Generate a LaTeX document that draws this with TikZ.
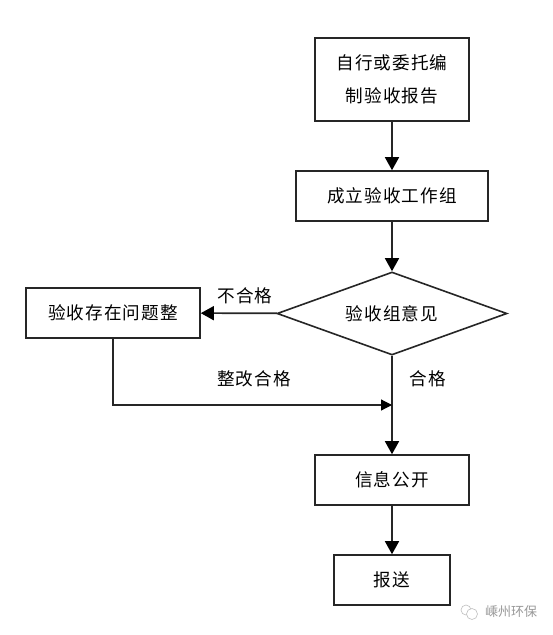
\documentclass[tikz,border=0pt]{standalone}
\usepackage{fontspec}
\usetikzlibrary{arrows.meta,shapes.geometric}
\setmainfont{Noto Sans CJK SC}[LetterSpace=6]
\newfontfamily\wmfont{Noto Sans CJK SC}
\tikzset{
  x=1pt,y=-1pt,
  flowbox/.style={draw=black!85,line width=1.6pt,fill=white,inner sep=0pt,align=center,font=\fontsize{17.6}{33}\selectfont},
  tag/.style={inner sep=0pt,font=\fontsize{17.6}{20}\selectfont},
  flow/.style={draw=black!85,line width=1.6pt,-{Triangle[length=13pt,width=14pt,color=black]}},
  thinflow/.style={draw=black!85,line width=1.2pt,-{Triangle[length=11pt,width=11pt,color=black]}},
}
\begin{document}
\begin{tikzpicture}
\useasboundingbox (0,0) rectangle (553,635);
\fill[white] (0,0) rectangle (553,635);
\node[flowbox,minimum width=154pt,minimum height=83pt] (a) at (392,79.5) {\raisebox{-1.5pt}{\parbox{150pt}{\centering 自行或委托编\\制验收报告}}};
\node[flowbox,minimum width=192pt,minimum height=50pt] (b) at (392,196) {成立验收工作组};
\node[flowbox,draw,shape=diamond,aspect=2.77,minimum width=230pt,minimum height=83pt] (c) at (392,313.5) {验收组意见};
\node[flowbox,minimum width=174pt,minimum height=50pt] (d) at (113,313) {验收存在问题整};
\node[flowbox,minimum width=154pt,minimum height=50pt] (e) at (392,480) {信息公开};
\node[flowbox,minimum width=116pt,minimum height=50pt] (f) at (392,580) {报送};
\coordinate (m) at (392,405);
\coordinate (k) at (113,405);
\draw[flow] (a) -- (b);
\draw[flow] (b) -- (c);
\draw[flow] (c) -- (d);
\draw[flow] (c) -- (e);
\draw[flow] (e) -- (f);
\draw[thinflow] (d.south) -- (k) -- (m);
\node[tag] (t1) at (245,296) {不合格};
\node[tag] (t2) at (254,379) {整改合格};
\node[tag] (t3) at (428,379) {合格};
\node[inner sep=0pt,text=black!40,font=\wmfont\fontsize{13}{14}\selectfont] (w) at (511,612) {嵊州环保};
\draw[black!25,line width=.6pt] (466,610) circle (5pt);
\draw[black!25,line width=.6pt,fill=white] (472,614) circle (5.5pt);
\end{tikzpicture}
\end{document}
